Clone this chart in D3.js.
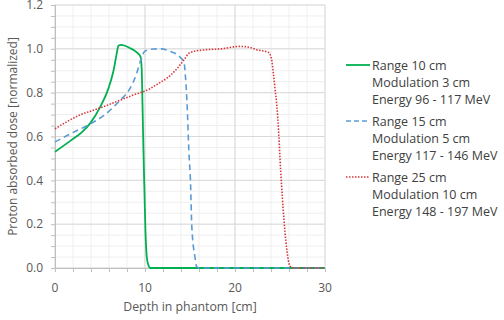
<!DOCTYPE html>
<html>
<head>
<meta charset="utf-8">
<script src="https://cdn.jsdelivr.net/npm/d3@7"></script>
<style>
  body { margin: 0; background: #fff; }
  #chart { width: 504px; height: 320px; }
  text { font-family: "Open Sans", sans-serif; fill: #595959; }
</style>
</head>
<body>
<div id="chart"></div>
<script>
// Depth-dose curves: [depth cm, dose]
var range10 = [[0,0.53],[1.7,0.58],[3,0.62],[3.9,0.66],[5,0.733],[5.9,0.815],[6.5,0.9],
    [6.85,0.977],[7.05,1.015],[7.4,1.018],[8.3,1.004],[9.05,0.985],[9.5,0.965],[9.63,0.91],
    [9.72,0.75],[9.82,0.55],[9.95,0.33],[10.05,0.17],[10.2,0.05],[10.4,0.01],[10.6,0],[30,0]];
var range15 = [[0,0.575],[1.7,0.612],[3.9,0.657],[5.4,0.695],[7.2,0.764],[8.3,0.817],
    [9.05,0.885],[9.5,0.945],[10,0.99],[10.9,0.999],[11.7,1.0],[12.8,0.988],[13.9,0.962],
    [14.35,0.935],[14.5,0.87],[14.65,0.77],[14.9,0.51],[15.05,0.4],[15.2,0.19],[15.55,0.05],
    [15.75,0.006],[16,0],[30,0]];
var range25 = [[0,0.635],[2.6,0.695],[5,0.73],[8.5,0.786],[10.5,0.817],[11.7,0.847],
    [12.4,0.865],[13.5,0.907],[14.25,0.945],[15,0.983],[16.5,0.995],[18.5,1.0],[20.5,1.011],
    [21.7,1.006],[22.4,0.996],[23.7,0.984],[24.05,0.955],[24.25,0.892],[24.45,0.817],
    [24.65,0.74],[24.85,0.62],[25,0.5],[25.35,0.27],[25.75,0.085],[26.1,0.009],[26.4,0],[30,0]];

var xTicks = [0, 10, 20, 30];
var yTicks = [0, 0.2, 0.4, 0.6, 0.8, 1.0, 1.2];

var legendLabels = [
    ["Range 10 cm", "Modulation 3 cm", "Energy 96 - 117 MeV"],
    ["Range 15 cm", "Modulation 5 cm", "Energy 117 - 146 MeV"],
    ["Range 25 cm", "Modulation 10 cm", "Energy 148 - 197 MeV"]
];

var series = [
    { data: range10, color: "#00b050", dash: null, width: 1.8 },
    { data: range15, color: "#5b9bd5", dash: "6,4", width: 1.6 },
    { data: range25, color: "#d9363b", dash: "1.5,1.5", width: 1.6 }
];

var width = 504, height = 320;
var svg = d3.select("#chart").append("svg")
    .attr("width", width)
    .attr("height", height);

var x = d3.scaleLinear().domain([0, 30]).range([55, 325]);
var y = d3.scaleLinear().domain([0, 1.2]).range([268, 5]);

// minor grid
svg.append("g").selectAll("line")
    .data(d3.range(0, 30.01, 2))
    .enter().append("line")
    .attr("x1", d => x(d)).attr("x2", d => x(d))
    .attr("y1", y(0)).attr("y2", y(1.2))
    .attr("stroke", "#efefef");
svg.append("g").selectAll("line")
    .data(d3.range(0, 1.2001, 0.05))
    .enter().append("line")
    .attr("y1", d => y(d)).attr("y2", d => y(d))
    .attr("x1", x(0)).attr("x2", x(30))
    .attr("stroke", "#efefef");

// major grid
svg.append("g").selectAll("line")
    .data(xTicks)
    .enter().append("line")
    .attr("x1", d => x(d)).attr("x2", d => x(d))
    .attr("y1", y(0)).attr("y2", y(1.2))
    .attr("stroke", "#d9d9d9");
svg.append("g").selectAll("line")
    .data(yTicks)
    .enter().append("line")
    .attr("y1", d => y(d)).attr("y2", d => y(d))
    .attr("x1", x(0)).attr("x2", x(30))
    .attr("stroke", "#d9d9d9");

// axes
var xAxis = svg.append("g")
    .attr("transform", "translate(0," + y(0) + ")")
    .call(d3.axisBottom(x).tickValues(d3.range(0, 30.01, 2)).tickSize(4).tickFormat(""));
var yAxis = svg.append("g")
    .attr("transform", "translate(" + x(0) + ",0)")
    .call(d3.axisLeft(y).tickValues(d3.range(0, 1.2001, 0.05)).tickSize(4).tickFormat(""));
[xAxis, yAxis].forEach(function(a) {
    a.select(".domain").attr("stroke", "#bfbfbf");
    a.selectAll(".tick line").attr("stroke", "#bfbfbf");
});

svg.append("g").selectAll("text")
    .data(xTicks)
    .enter().append("text")
    .attr("x", d => x(d)).attr("y", 292)
    .attr("text-anchor", "middle")
    .style("font-size", "12px")
    .text(d => d);
svg.append("g").selectAll("text")
    .data(yTicks)
    .enter().append("text")
    .attr("x", 43).attr("y", d => y(d) + 4.2)
    .attr("text-anchor", "end")
    .style("font-size", "12px")
    .text(d => d.toFixed(1));

// axis titles
svg.append("text")
    .attr("x", 190).attr("y", 311)
    .attr("text-anchor", "middle")
    .style("font-size", "12.3px")
    .text("Depth in phantom [cm]");
svg.append("text")
    .attr("transform", "translate(17," + y(0.6) + ") rotate(-90)")
    .attr("text-anchor", "middle")
    .style("font-size", "12px")
    .text("Proton absorbed dose [normalized]");

// curves
var line = d3.line().x(d => x(d[0])).y(d => y(d[1])).curve(d3.curveMonotoneX);
series.forEach(function(s) {
    svg.append("path")
        .datum(s.data)
        .attr("d", line)
        .attr("fill", "none")
        .attr("stroke", s.color)
        .attr("stroke-width", s.width)
        .attr("stroke-dasharray", s.dash);
});

// legend
var legend = svg.append("g");
series.forEach(function(s, i) {
    var ly = 65 + i * 56;
    legend.append("line")
        .attr("x1", 346).attr("x2", 370)
        .attr("y1", ly).attr("y2", ly)
        .attr("stroke", s.color)
        .attr("stroke-width", s.width)
        .attr("stroke-dasharray", s.dash ? (i == 1 ? "5,3" : "1.5,1.5") : null);
    legendLabels[i].forEach(function(t, j) {
        legend.append("text")
            .attr("x", 372).attr("y", ly + 4.5 + j * 17)
            .style("font-size", "12.5px")
            .style("fill", "#404040")
            .text(t);
    });
});
</script>
</body>
</html>
